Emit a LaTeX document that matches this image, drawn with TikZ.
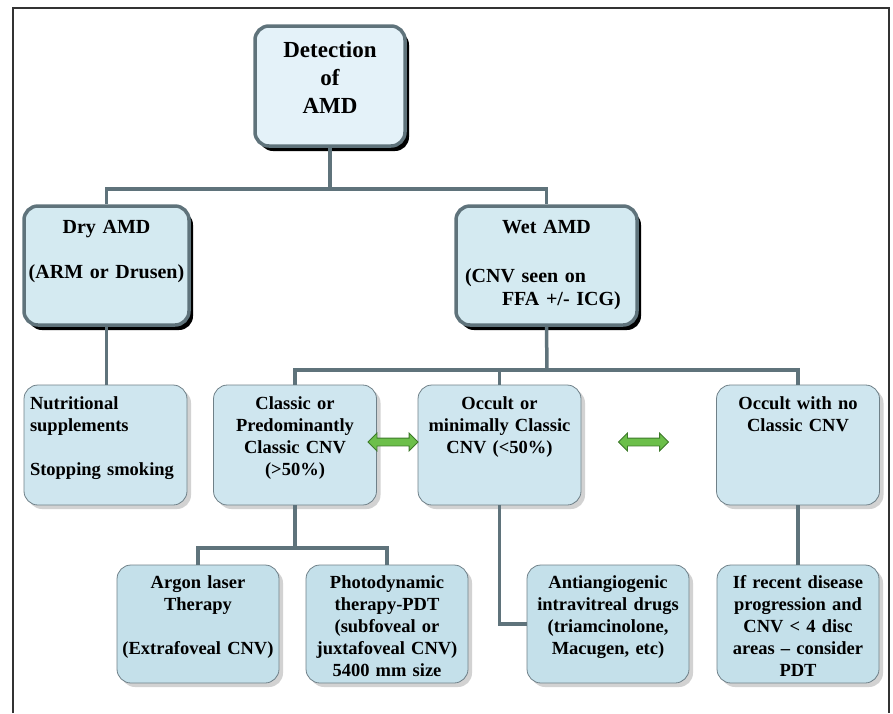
\documentclass[tikz,border=0pt]{standalone}
\usepackage{fontspec}
\setmainfont{Liberation Serif}
\usetikzlibrary{shadows, shapes.arrows}
\definecolor{edgegray}{HTML}{5F737B}
\definecolor{thingray}{HTML}{6F8088}
\definecolor{fillzero}{HTML}{E4F2F9}
\definecolor{fillone}{HTML}{D4EAF1}
\definecolor{filltwo}{HTML}{CFE6EF}
\definecolor{fillthree}{HTML}{C4E0EA}
\definecolor{arrowgreen}{HTML}{6CBF4A}
\definecolor{arrowdark}{HTML}{3D7A2A}

\begin{document}
\begin{tikzpicture}[x=1pt, y=-1pt,
    conn/.style={draw=edgegray, line width=3.5pt},
    frame/.style={draw=black!80, line width=1.6pt},
    headbox/.style={draw=edgegray, line width=3.5pt, rounded corners=14pt,
      drop shadow={shadow xshift=4pt, shadow yshift=-5pt, fill=black, opacity=1},
      inner ysep=8pt},
    midbox/.style={headbox, fill=fillone, inner xsep=2pt, text height=19pt,
      text depth=84pt, font=\fontsize{20}{22.5}\selectfont\bfseries},
    leafbox/.style={draw=thingray, line width=0.8pt, rounded corners=14pt,
      drop shadow={shadow xshift=4pt, shadow yshift=-4pt, fill=gray!70, opacity=0.5},
      inner xsep=2pt, inner ysep=8pt, align=center,
      font=\fontsize{18.5}{22}\selectfont\bfseries},
    rowthree/.style={leafbox, fill=filltwo, text width=159pt, text height=16pt, text depth=88pt},
    rowfour/.style={leafbox, fill=fillthree, text width=158pt, text height=15pt, text depth=87pt},
    linkarrow/.style={double arrow, fill=arrowgreen, draw=arrowdark, line width=0.8pt,
      double arrow head extend=5pt, inner sep=3.5pt, minimum height=50pt}]

  \useasboundingbox (0,0) rectangle (893,713);
  \draw[frame] (13,713) -- (13,8) -- (889,8) -- (889,713);

  % top level
  \node[headbox, fill=fillzero, inner xsep=2pt, text width=146pt, text height=23pt,
        text depth=81pt, align=center, font=\fontsize{23}{28}\selectfont\bfseries]
        (det) at (330,86) {Detection\\of\\AMD};

  \node[midbox, text width=161pt, align=center] (dry) at (106.5,265.5)
        {Dry AMD\\[22.5pt](ARM or Drusen)};
  \node[midbox, inner xsep=9pt, text width=163pt, align=left,
        font=\fontsize{20}{23}\selectfont\bfseries] (wet) at (546.5,265.5)
        {\hspace*{37pt}Wet AMD\\[26pt](CNV seen on\\\hspace*{37pt}FFA +/- ICG)};

  % third row
  \node[rowthree, inner xsep=6pt, text width=151pt, align=left] (nutri) at (105.5,445)
        {Nutritional\\supplements\\[22pt]Stopping smoking};
  \node[rowthree] (classic) at (295,445)
        {Classic or\\Predominantly\\Classic CNV\\(>50\%)};
  \node[rowthree] (occ) at (499.5,445)
        {Occult or\\minimally Classic\\CNV (<50\%)};
  \node[rowthree] (noc) at (798,445)
        {Occult with no\\Classic CNV};

  % fourth row
  \node[rowfour] (argon) at (198,624)
        {Argon laser\\Therapy\\[22pt](Extrafoveal CNV)};
  \node[rowfour] (photo) at (387,624)
        {Photodynamic\\therapy-PDT\\(subfoveal or\\juxtafoveal CNV)\\5400 mm size};
  \node[rowfour] (anti) at (608,624)
        {Antiangiogenic\\intravitreal drugs\\(triamcinolone,\\Macugen, etc)};
  \node[rowfour] (recent) at (798,624)
        {If recent disease\\progression and\\CNV < 4 disc\\areas -- consider\\PDT};

  \foreach \nm/\x in {linkA/393, linkB/643.5}
    \node[linkarrow] (\nm) at (\x,442) {};

  % connectors
  \coordinate (j1) at (330,189);
  \coordinate (j2) at (547,370);
  \coordinate (j3) at (295,548);
  \draw[conn] (det.south) -- (j1);
  \draw[conn] (dry.north) |- (j1) -| (wet.north);
  \draw[conn] (dry.south) -- (dry.south |- nutri.north);
  \draw[conn] (wet.south) -- (j2);
  \draw[conn] (classic.north) |- (j2) -| (noc.north);
  \draw[conn] (occ.north) -- (occ.north |- j2);
  \draw[conn] (classic.south) -- (j3);
  \draw[conn] (argon.north) |- (j3) -| (photo.north);
  \draw[conn] (occ.south) |- (anti.west);
  \draw[conn] (noc.south) -- (recent.north);
\end{tikzpicture}
\end{document}
